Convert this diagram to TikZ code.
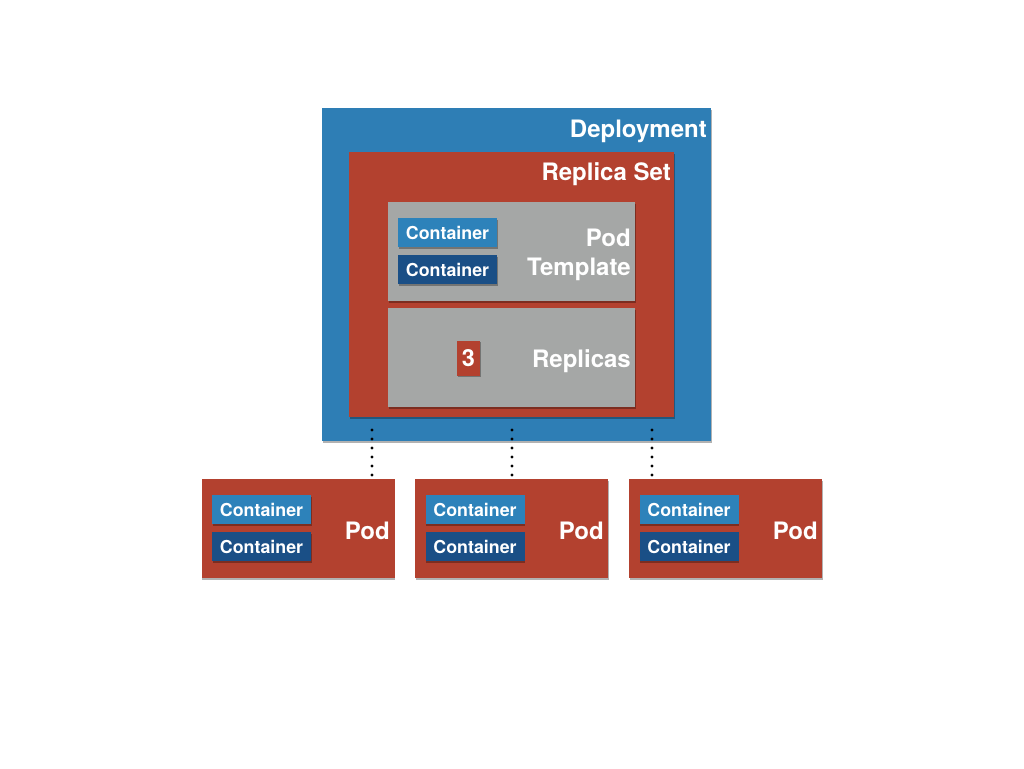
\documentclass[tikz,border=0pt]{standalone}
\usepackage{fontspec}
\setmainfont{TeX Gyre Heros}
\usetikzlibrary{shadows}
\definecolor{depblue}{HTML}{2E7EB5}
\definecolor{rsred}{HTML}{B3412F}
\definecolor{tmplgray}{HTML}{A5A7A6}
\definecolor{clight}{HTML}{2D82BA}
\definecolor{cdark}{HTML}{1A4F86}
\tikzset{
  box/.style={draw=none, inner sep=0pt, outer sep=0pt,
    drop shadow={shadow xshift=0.8pt, shadow yshift=-1.6pt, opacity=0.3, fill=black}},
  deploy/.style={box, fill=depblue, minimum width=389pt, minimum height=333pt},
  rset/.style={box, fill=rsred, minimum width=325pt, minimum height=265pt},
  graybox/.style={box, fill=tmplgray, minimum width=247pt, minimum height=99pt},
  podbox/.style={box, fill=rsred, minimum width=193pt, minimum height=99pt},
  cont/.style={box, minimum width=99pt, minimum height=29pt, text=white,
    font=\bfseries\fontsize{17.8}{20}\selectfont},
  contA/.style={cont, fill=clight},
  contB/.style={cont, fill=cdark},
  numbox/.style={box, fill=rsred, minimum width=23pt, minimum height=35pt, text=white,
    font=\bfseries\fontsize{23.5}{26}\selectfont},
  lbl/.style={text=white, inner sep=0pt, font=\bfseries\fontsize{24}{29}\selectfont, align=right},
  dots/.style={line width=3.4pt, line cap=round, dash pattern=on 0pt off 9pt, black}
}
\begin{document}
\begin{tikzpicture}[x=1pt,y=-1pt]
\useasboundingbox[fill=white] (0,0) rectangle (1024,768);
% Deployment
\node[deploy] (dep) at (516.5,274.5) {};
\node[lbl, anchor=east] (deplbl) at (707,131) {Deployment};
% Replica set
\node[rset] (rs) at (511.5,284.5) {};
\node[lbl, anchor=east] (rslbl) at (671,174) {Replica Set};
% Pod template
\node[graybox] (tmpl) at (511.5,251.5) {};
\node[contA] (tc1) at (447.5,232.5) {Container};
\node[contB] (tc2) at (447.5,269.5) {Container};
\node[lbl, anchor=east] (tmpllbl) at (631,255) {Pod\\Template};
% Replicas
\node[graybox] (repl) at (511.5,357.5) {};
\node[numbox] (num) at (468.5,358) {3};
\node[lbl, anchor=east] (repllbl) at (631,361) {Replicas};
% Pods
\node[podbox] (p1) at (298,528.5) {};
\node[podbox] (p2) at (511.5,528.5) {};
\node[podbox] (p3) at (725.5,528.5) {};
\node[contA] (p1c1) at (261.5,509.5) {Container};
\node[contB] (p1c2) at (261.5,546.5) {Container};
\node[contA] (p2c1) at (475,509.5) {Container};
\node[contB] (p2c2) at (475,546.5) {Container};
\node[contA] (p3c1) at (689,509.5) {Container};
\node[contB] (p3c2) at (689,546.5) {Container};
\node[lbl, anchor=east] (p1l) at (390,531) {Pod};
\node[lbl, anchor=east] (p2l) at (604,531) {Pod};
\node[lbl, anchor=east] (p3l) at (818,531) {Pod};
% dotted connectors
\coordinate (d1) at (372,430);
\coordinate (d2) at (512,430);
\coordinate (d3) at (652,430);
\draw[dots] (d1) -- ([yshift=3pt]d1 |- p1.north);
\draw[dots] (d2) -- ([yshift=3pt]d2 |- p2.north);
\draw[dots] (d3) -- ([yshift=3pt]d3 |- p3.north);
\end{tikzpicture}
\end{document}
